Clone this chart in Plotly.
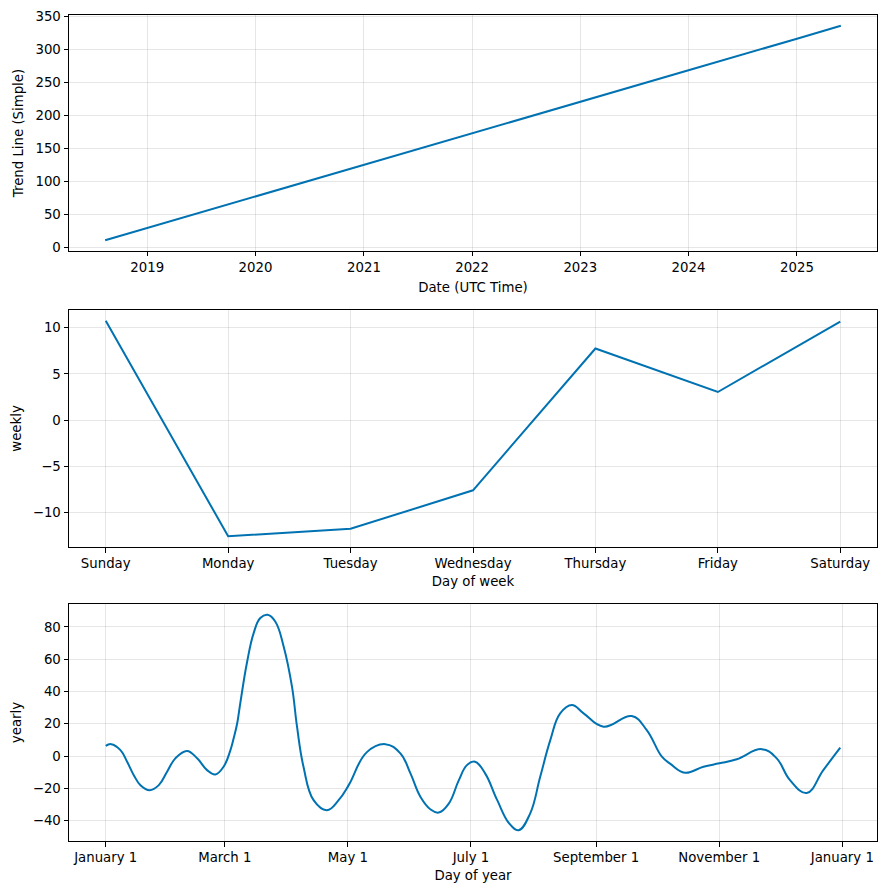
import pandas as pd
import plotly.graph_objects as go

# ---- data ----
trend_dates = ["2018-08-12", "2019-01-01", "2020-01-01", "2021-01-01", "2022-01-01",
               "2023-01-01", "2024-01-01", "2025-01-01", "2025-05-29"]
trend_values = [11, 29.5, 77.3, 125.2, 173.0, 220.8, 268.6, 316.4, 336]

weekdays = ["Sunday", "Monday", "Tuesday", "Wednesday", "Thursday", "Friday", "Saturday"]
weekly_values = [10.76, -12.56, -11.76, -7.59, 7.76, 3.05, 10.68]

yearly_days = [0, 2.7, 7.3, 10.6, 13.9, 17.2, 21.8, 26.3, 30.4, 34.5, 40.3, 45.3, 50.2, 54.3,
               58.4, 61.8, 63.4, 65.1, 66.7, 70, 73.3, 76.6, 80.2, 84, 88.2, 92.3, 94.8, 98,
               103, 109.6, 115.4, 120.4, 129.3, 138.5, 146, 151, 156, 161, 165, 170, 175, 179,
               183, 188, 194, 200, 204.6, 210.3, 215.3, 220.3, 225.2, 231, 236.8, 246.7, 260.7,
               268.1, 275.6, 280, 287, 296.2, 304.1, 312.7, 325.1, 332.5, 339.1, 347.4, 355.6,
               364]
yearly_values = [6.3, 7.4, 3.7, -3.5, -11.8, -18.0, -21.1, -18.0, -9.7, -1.4, 3.2, -1.4, -8.7,
                 -11.4, -6.6, 3.7, 11.0, 20.0, 33.0, 58.0, 76.2, 85.5, 87.5, 83.4, 67.8, 43.0,
                 18.2, -6.6, -27.3, -33.5, -27.3, -18.0, 2.3, 7.4, 1.7, -10.7, -25.3, -33.1,
                 -35.0, -29.4, -14.9, -5.6, -3.5, -10.7, -27.3, -41.8, -45.9, -35.6, -12.8, 9.9,
                 26.5, 31.7, 26.5, 18.2, 24.8, 16.1, -0.4, -5.0, -10.3, -6.6, -4.5, -2.0, 4.3,
                 -1.4, -14.9, -22.8, -8.7, 5.2]

year_tick_dates = ["2017-01-01", "2017-03-01", "2017-05-01", "2017-07-01",
                   "2017-09-01", "2017-11-01", "2018-01-01"]
year_tick_labels = ["January 1", "March 1", "May 1", "July 1",
                    "September 1", "November 1", "January 1"]

# ---- build ----
base = pd.Timestamp("2017-01-01")
yearly_dates = [base + pd.Timedelta(days=d) for d in yearly_days]

LINE = "#0072B2"
FONT = dict(family="DejaVu Sans", size=13.3, color="black")
GRID = "rgba(128,128,128,0.2)"

fig = go.Figure()
fig.add_trace(go.Scatter(x=pd.to_datetime(trend_dates), y=trend_values, mode="lines",
                         line=dict(color=LINE, width=2), xaxis="x", yaxis="y"))
fig.add_trace(go.Scatter(x=list(range(len(weekdays))), y=weekly_values, mode="lines",
                         line=dict(color=LINE, width=2), xaxis="x2", yaxis="y2"))
fig.add_trace(go.Scatter(x=yearly_dates, y=yearly_values, mode="lines",
                         line=dict(color=LINE, width=2, shape="spline", smoothing=1.2),
                         xaxis="x3", yaxis="y3"))

common = dict(showline=True, linecolor="black", linewidth=1, mirror=True,
              ticks="outside", ticklen=4.5, tickwidth=1, tickcolor="black",
              showgrid=True, gridcolor=GRID, gridwidth=1, zeroline=False,
              tickfont=FONT, title_font=FONT, automargin=False)

fig.update_layout(
    width=886, height=894,
    margin=dict(l=69, r=9, t=15, b=53),
    paper_bgcolor="white", plot_bgcolor="white",
    showlegend=False,
    font=FONT,
    xaxis=dict(domain=[0, 1], anchor="y", type="date",
               range=["2018-04-12", "2025-09-28"], dtick="M12",
               tick0="2019-01-01", tickformat="%Y",
               title=dict(text="Date (UTC Time)", standoff=8), **common),
    yaxis=dict(domain=[0.7143, 1.0], anchor="x", range=[-5.3, 352.3],
               tickvals=[0, 50, 100, 150, 200, 250, 300, 350],
               title=dict(text="Trend Line (Simple)", standoff=8), **common),
    xaxis2=dict(domain=[0, 1], anchor="y2", range=[-0.3, 6.3],
                tickvals=list(range(len(weekdays))), ticktext=weekdays,
                title=dict(text="Day of week", standoff=6), **common),
    yaxis2=dict(domain=[0.3559, 0.6429], anchor="x2", range=[-13.73, 11.93],
                tickvals=[-10, -5, 0, 5, 10], ticktext=["\u221210", "\u22125", "0", "5", "10"],
                title=dict(text="weekly", standoff=8), **common),
    xaxis3=dict(domain=[0, 1], anchor="y3", type="date",
                range=[base - pd.Timedelta(days=18.2), base + pd.Timedelta(days=382.2)],
                tickvals=pd.to_datetime(year_tick_dates), ticktext=year_tick_labels,
                title=dict(text="Day of year", standoff=6), **common),
    yaxis3=dict(domain=[0.0, 0.2869], anchor="x3", range=[-52.6, 94.2],
                tickvals=[-40, -20, 0, 20, 40, 60, 80],
                ticktext=["\u221240", "\u221220", "0", "20", "40", "60", "80"],
                title=dict(text="yearly", standoff=8), **common),
)

fig.write_html("out.html", config={"displayModeBar": False})

# remove the default page margin so the figure sits at the window's origin
with open("out.html", "r", encoding="utf-8") as f:
    html = f.read()
html = html.replace("<body>", '<body style="margin:0;padding:0;overflow:hidden">', 1)
with open("out.html", "w", encoding="utf-8") as f:
    f.write(html)
